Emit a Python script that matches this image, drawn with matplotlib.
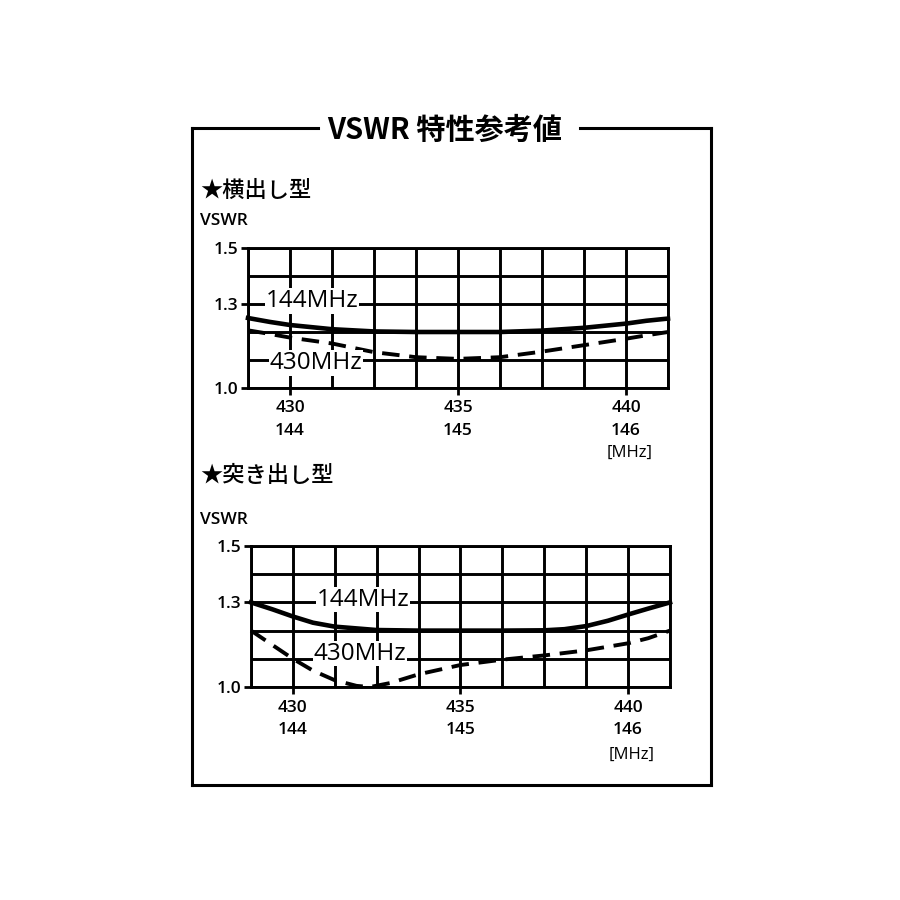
import matplotlib.pyplot as plt
from matplotlib.lines import Line2D
from matplotlib.ticker import FixedLocator

plt.rcParams["font.family"] = ["Open Sans", "Noto Sans CJK JP", "DejaVu Sans"]
jp = ["Noto Sans CJK JP", "DejaVu Sans"]

# grid columns every 1.25 MHz (430 MHz band)
x_grid = [428.75, 430.0, 431.25, 432.5, 433.75, 435.0, 436.25, 437.5, 438.75, 440.0, 441.25]
y_grid = [1.0, 1.1, 1.2, 1.3, 1.4, 1.5]

# 横出し型
side_freq = [428.75, 429.4, 430.0, 431.25, 432.5, 433.75, 435.0, 436.25, 437.5, 438.75, 440.0, 440.6, 441.25]
side_144 = [1.250, 1.236, 1.225, 1.210, 1.202, 1.200, 1.200, 1.200, 1.205, 1.215, 1.230, 1.240, 1.248]
side_430 = [1.206, 1.193, 1.180, 1.159, 1.128, 1.110, 1.104, 1.110, 1.130, 1.153, 1.176, 1.188, 1.200]

# 突き出し型
top_freq_144 = [428.75, 429.4, 430.0, 430.6, 431.25, 432.5, 433.75, 435.0, 436.25, 437.5, 438.1,
                438.75, 439.4, 440.0, 440.6, 441.25]
top_144 = [1.300, 1.275, 1.250, 1.228, 1.214, 1.202, 1.200, 1.200, 1.200, 1.201, 1.205,
           1.216, 1.235, 1.257, 1.278, 1.300]
top_freq_430 = [428.75, 429.4, 430.0, 430.6, 431.25, 431.9, 432.3, 432.9, 433.75, 435.0, 436.25,
                437.5, 438.75, 440.0, 440.6, 441.25]
top_430 = [1.200, 1.148, 1.100, 1.058, 1.024, 1.004, 1.000, 1.014, 1.045, 1.078, 1.097,
           1.112, 1.130, 1.155, 1.173, 1.200]

x_ticks = [430, 435, 440]
x_labels = ["430\n144", "435\n145", "440\n146"]
y_ticks = [1.0, 1.3, 1.5]
y_labels = ["1.0", "1.3", "1.5"]

fig = plt.figure(figsize=(9, 9), dpi=100)


def px(x0, y0, x1, y1):
    return [x0 / 900, 1 - y1 / 900, (x1 - x0) / 900, (y1 - y0) / 900]


def panel(rect, xs_a, ya, xs_b, yb, lab144, lab430):
    ax = fig.add_axes(rect)
    ax.set_xlim(428.75, 441.25)
    ax.set_ylim(1.0, 1.5)
    ax.xaxis.set_minor_locator(FixedLocator(x_grid))
    ax.yaxis.set_minor_locator(FixedLocator(y_grid))
    ax.set_xticks(x_ticks)
    ax.set_xticklabels(x_labels, fontsize=12.5, fontweight="semibold", linespacing=1.55)
    ax.set_yticks(y_ticks)
    ax.set_yticklabels(y_labels, fontsize=12.5, fontweight="semibold")
    ax.grid(which="both", color="black", linewidth=2.1)
    ax.tick_params(which="major", length=5, width=2)
    ax.tick_params(axis="x", pad=4)
    ax.tick_params(axis="y", pad=2)
    ax.tick_params(which="minor", length=0)
    for s in ax.spines.values():
        s.set_linewidth(2.1)
    ax.plot(xs_a, ya, color="black", linewidth=3.3, clip_on=False, zorder=5)
    ax.plot(xs_b, yb, color="black", linewidth=2.8, dashes=(4.5, 2.5), clip_on=False, zorder=5)
    box = dict(facecolor="white", edgecolor="none", pad=0.5)
    ax.text(lab144[0], lab144[1], "144MHz", fontsize=17.5, ha="center", va="center", bbox=box, zorder=6)
    ax.text(lab430[0], lab430[1], "430MHz", fontsize=17.5, ha="center", va="center", bbox=box, zorder=6)
    ax.set_axisbelow(True)
    return ax


panel(px(248, 248, 668, 388), side_freq, side_144, side_freq, side_430, (430.65, 1.31), (430.77, 1.09))
panel(px(251, 546, 670, 687), top_freq_144, top_144, top_freq_430, top_430, (432.1, 1.31), (432.0, 1.118))

# frame with title
lw = 2.2
fy = 1 - 128 / 900
fb = 1 - 785 / 900
fig.add_artist(Line2D([192 / 900, 318 / 900], [fy, fy], color="black", linewidth=lw))
fig.add_artist(Line2D([580 / 900, 711 / 900], [fy, fy], color="black", linewidth=lw))
fig.add_artist(Line2D([192 / 900, 192 / 900], [fy, fb], color="black", linewidth=lw))
fig.add_artist(Line2D([711 / 900, 711 / 900], [fy, fb], color="black", linewidth=lw))
fig.add_artist(Line2D([192 / 900, 711 / 900], [fb, fb], color="black", linewidth=lw))

fig.text(445 / 900, 1 - 130 / 900, "VSWR 特性参考値", fontsize=21, fontweight="bold",
         family=jp, ha="center", va="center")

fig.text(200 / 900, 1 - 190 / 900, "★横出し型", fontsize=16, fontweight="medium", family=jp,
         ha="left", va="center")
fig.text(200 / 900, 1 - 221 / 900, "VSWR", fontsize=12.5, fontweight="semibold", ha="left", va="center")
fig.text(607 / 900, 1 - 453 / 900, "[MHz]", fontsize=12, ha="left", va="center")

fig.text(200 / 900, 1 - 476 / 900, "★突き出し型", fontsize=16, fontweight="medium", family=jp,
         ha="left", va="center")
fig.text(200 / 900, 1 - 520 / 900, "VSWR", fontsize=12.5, fontweight="semibold", ha="left", va="center")
fig.text(609 / 900, 1 - 755 / 900, "[MHz]", fontsize=12, ha="left", va="center")

fig.savefig("out.png", dpi=100, facecolor="white")
